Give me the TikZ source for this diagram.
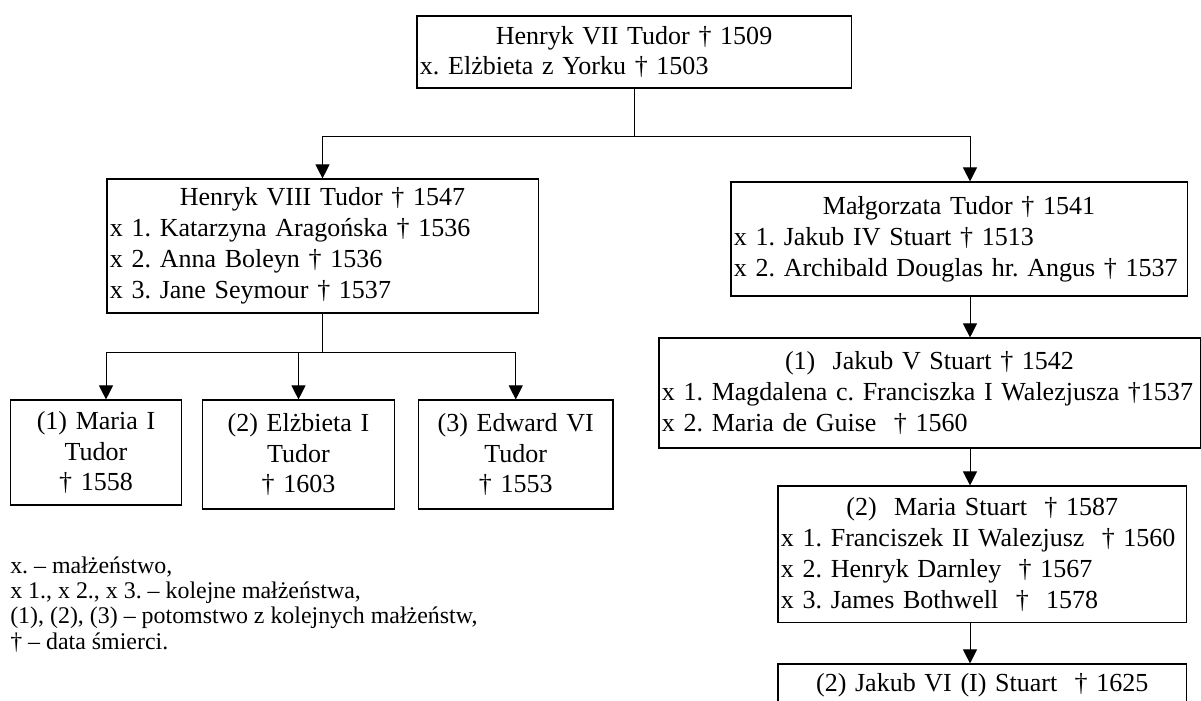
\documentclass[tikz,border=0pt]{standalone}
\usepackage{fontspec}
\setmainfont{Liberation Serif}
\usepackage{tikz}
\usetikzlibrary{arrows.meta}

\newcommand{\tytul}[1]{\makebox[\linewidth]{#1}\\}
\frenchspacing

\begin{document}
\begin{tikzpicture}[x=0.025cm, y=-0.025cm,
		osoba/.style={draw, line width=0.8pt, inner xsep=0.075cm, inner ysep=0pt, align=left, font=\fontsize{18.5}{22}\selectfont},
		dziecko/.style={osoba, align=center},
		strz/.style={-{Triangle[length=10pt, width=10pt]}, line width=0.7pt}]
	\clip (0,0) rectangle (1201,700);
	\coordinate (os) at (970,0);
	% Tudorowie
	\node[osoba, text width=10.7cm, minimum height=1.8cm] (H7) at (634,52)
		{\tytul{Henryk VII Tudor † 1509}x. Elżbieta z Yorku † 1503};
	\node[osoba, text width=10.625cm, minimum height=3.35cm] (H8) at (322.5,246)
		{\tytul{Henryk VIII Tudor † 1547}x 1. Katarzyna Aragońska † 1536\\ x 2. Anna Boleyn † 1536\\ x 3. Jane Seymour † 1537};
	\node[dziecko, text width=4.1375cm, minimum height=2.625cm] (C1) at (96,452.5)
		{(1) Maria I\\ Tudor\\ † 1558};
	\node[dziecko, text width=4.65cm, minimum height=2.725cm] (C2) at (298.5,454.5)
		{(2) Elżbieta I\\ Tudor\\ † 1603};
	\node[dziecko, text width=4.7125cm, minimum height=2.725cm] (C3) at (515.75,454.5)
		{(3) Edward VI\\ Tudor\\ † 1553};
	% Stuartowie
	\node[osoba, text width=11.25cm, minimum height=2.85cm] (MT) at (959,239)
		{\tytul{Małgorzata Tudor † 1541}x 1. Jakub IV Stuart † 1513\\ \mbox{x 2. Archibald Douglas hr. Angus † 1537}};
	\node[osoba, text width=13.375cm, minimum height=2.75cm] (J5) at (929.5,393)
		{\tytul{(1)\ \ Jakub V Stuart † 1542}\mbox{x 1. Magdalena c. Franciszka I Walezjusza †1537}\\ x 2. Maria de Guise\ \ † 1560};
	\node[osoba, text width=10.0625cm, minimum height=3.4125cm] (MS) at (982.25,554.25)
		{\tytul{(2)\ \ Maria Stuart\ \ † 1587}\mbox{x 1. Franciszek II Walezjusz\ \ † 1560}\\ x 2. Henryk Darnley\ \ † 1567\\ x 3. James Bothwell\ \ †\ \ 1578};
	\node[dziecko, text width=10.0625cm, minimum height=1.075cm] (J6) at (982.25,685.5)
		{(2) Jakub VI (I) Stuart\ \ † 1625};

	\coordinate (g1) at (634,136);
	\coordinate (g2) at (322.5,352);
	\draw[line width=0.7pt] (H7.south) -- (g1);
	\draw[strz] (g1) -| (H8.north);
	\draw[strz] (g1) -| (MT.north -| os);
	\draw[line width=0.7pt] (H8.south) -- (g2);
	\draw[strz] (g2) -| ([xshift=0.25cm]C1.north);
	\draw[strz] (g2) -| (C2.north);
	\draw[strz] (g2) -| (C3.north);
	\draw[strz] (MT.south -| os) -- (J5.north -| os);
	\draw[strz] (J5.south -| os) -- (MS.north -| os);
	\draw[strz] (MS.south -| os) -- (J6.north -| os);

	% objasnienia
	\node[anchor=north west, align=left, inner sep=0pt, font=\fontsize{17}{17.8}\selectfont] (leg) at (10,557)
		{x. – małżeństwo,\\ x 1., x 2., x 3. – kolejne małżeństwa,\\ (1), (2), (3) – potomstwo z kolejnych małżeństw,\\ † – data śmierci.};
\end{tikzpicture}
\end{document}
